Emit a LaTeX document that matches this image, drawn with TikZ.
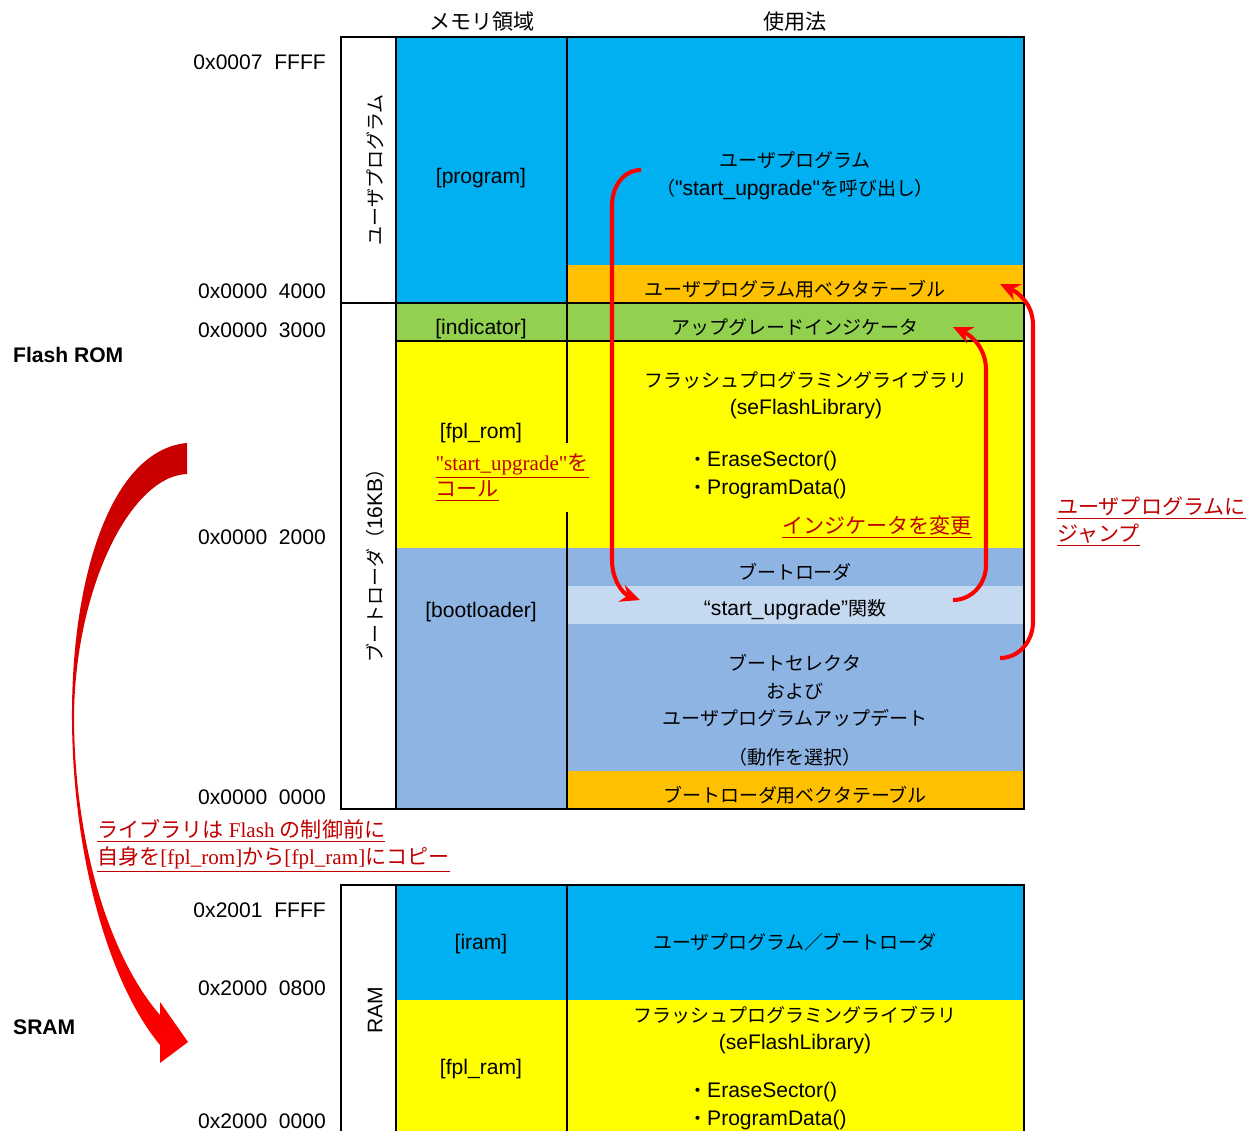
\documentclass[tikz,border=0pt]{standalone}
\usepackage{fontspec}
\setmainfont{Liberation Sans}
\newfontfamily\qsans{Liberation Sans}
\newfontfamily\cjk[Scale=0.9]{Noto Sans CJK JP}
\newfontfamily\cjkbig{Noto Sans CJK JP}
\newfontfamily\ser{Liberation Serif}
\usetikzlibrary{arrows.meta}

\definecolor{progblue}{HTML}{00B0F0}
\definecolor{vecorange}{HTML}{FFC000}
\definecolor{flaggreen}{HTML}{92D050}
\definecolor{libyellow}{HTML}{FFFF00}
\definecolor{bootblue}{HTML}{8DB4E2}
\definecolor{funcblue}{HTML}{C5D9F1}
\definecolor{notered}{HTML}{C00000}
\newcommand{\jp}[1]{{\cjk #1}}
\newcommand{\jr}[1]{{\cjkbig #1}}

\begin{document}
\begin{tikzpicture}[
    x=0.02cm, y=-0.02cm,
    font=\fontsize{12}{14}\selectfont,
    grid/.style={line width=1.1pt},
    addr/.style={anchor=east, inner sep=1pt},
    region/.style={anchor=center},
    usage/.style={anchor=center, align=center, font=\fontsize{12}{15.8}\selectfont},
    funcs/.style={anchor=west, align=left, font=\fontsize{12}{15.8}\selectfont},
    sidelabel/.style={rotate=90, anchor=center},
    memtitle/.style={anchor=west, font=\fontsize{12}{14}\selectfont\bfseries},
    header/.style={anchor=center},
    note/.style={text=notered, anchor=base west, align=left, inner sep=1pt, font=\fontsize{12}{15.3}\selectfont\ser},
    jump/.style={draw=red, line width=2.3pt, -{Stealth[length=11pt,width=10pt]}}
]
\useasboundingbox (0,0) rectangle (1247,1131);

% Flash ROM
\fill[progblue] (396,37) rectangle (1024,265);
\fill[progblue] (396,265) rectangle (567,303);
\fill[vecorange] (567,265) rectangle (1024,303);
\fill[flaggreen] (396,303) rectangle (1024,341);
\fill[libyellow] (396,341) rectangle (1024,548);
\fill[bootblue] (396,548) rectangle (1024,809);
\fill[funcblue] (567,586) rectangle (1024,624);
\fill[vecorange] (567,771) rectangle (1024,809);
\draw[grid] (341,37) rectangle (1024,809);
\draw[grid] (396,37) -- (396,809) (567,37) -- (567,809);
\draw[grid] (341,303) -- (1024,303) (396,341) -- (1024,341);

% SRAM
\fill[progblue] (396,885) rectangle (1024,1000);
\fill[libyellow] (396,1000) rectangle (1024,1131);
\draw[grid] (341,1131) -- (341,885) -- (1024,885) -- (1024,1131);
\draw[grid] (396,885) -- (396,1131) (567,885) -- (567,1131);

% headers
\node[header] (memhead) at (482,22) {\jr{メモリ領域}};
\node[header] (usehead) at (795,22) {\jr{使用法}};

% addresses
\node[addr] (a7ffff) at (328,62) {0x0007\ \ FFFF};
\node[addr] (a4000) at (328,291) {0x0000\ \ 4000};
\node[addr] (a3000) at (328,330) {0x0000\ \ 3000};
\node[addr] (a2000) at (328,537) {0x0000\ \ 2000};
\node[addr] (a0000) at (328,797) {0x0000\ \ 0000};
\node[addr] (r1ffff) at (328,910) {0x2001\ \ FFFF};
\node[addr] (r0800) at (328,988) {0x2000\ \ 0800};
\node[addr] (r0000) at (328,1121) {0x2000\ \ 0000};

\node[memtitle] (flashtitle) at (7,355) {Flash ROM};
\node[memtitle] (sramtitle) at (7,1027) {SRAM};

% side labels
\node[sidelabel] (userside) at (375,170) {\jp{ユーザプログラム}};
\node[sidelabel] (bootside) at (375,561) {\jp{ブートローダ（}16KB\jp{）}};
\node[sidelabel] (ramside) at (375,1010) {RAM};

% regions
\node[region] (prog) at (481,178) {[program]};
\node[region] (indi) at (481,329) {[indicator]};
\node[region] (fplrom) at (481,433) {[fpl\_rom]};
\node[region] (boot) at (481,612) {[bootloader]};
\node[region] (iram) at (481,944) {[iram]};
\node[region] (fplram) at (481,1069) {[fpl\_ram]};

% usage
\node[usage] (userprog) at (795,176) {\jp{ユーザプログラム}\\\jp{（}{\qsans "start\_upgrade"}\jp{を呼び出し）}};
\node[usage] (uservec) at (795,289) {\jp{ユーザプログラム用ベクタテーブル}};
\node[usage] (flagtext) at (795,327) {\jp{アップグレードインジケータ}};
\node[usage] (libtext) at (806,395) {\jp{フラッシュプログラミングライブラリ}\\(seFlashLibrary)};
\node[funcs] (libfuncs) at (682,475) {\jp{・}EraseSector()\\\jp{・}ProgramData()};
\node[usage] (boottext) at (795,572) {\jp{ブートローダ}};
\node[usage] (functext) at (795,610) {“start\_upgrade”\jp{関数}};
\node[usage] (selecttext) at (795,710) {\jp{ブートセレクタ}\\\jp{および}\\\jp{ユーザプログラムアップデート}\\[6pt]\jp{（動作を選択）}};
\node[usage] (bootvec) at (795,795) {\jp{ブートローダ用ベクタテーブル}};
\node[usage] (ramuse) at (795,942) {\jp{ユーザプログラム／ブートローダ}};
\node[usage] (ramlib) at (795,1030) {\jp{フラッシュプログラミングライブラリ}\\(seFlashLibrary)};
\node[funcs] (ramfuncs) at (682,1106) {\jp{・}EraseSector()\\\jp{・}ProgramData()};

% copy arrow
\shade[top color=red!78!black, bottom color=red]
  (187,443) .. controls (110,450) and (71,580) .. (72,720)
  .. controls (73,860) and (110,985) .. (160,1045)
  -- (160,1063) -- (188,1042) -- (160,1002) -- (160,1015)
  .. controls (112,960) and (75,850) .. (74,720)
  .. controls (74,590) and (130,476) .. (187,474) -- cycle;

% jumps
\coordinate (callsrc) at (641,170);
\coordinate (calldst) at (640,600);
\coordinate (flagsrc) at (953,600);
\coordinate (flagdst) at (953,327);
\coordinate (jumpsrc) at (1000,658);
\coordinate (jumpdst) at (1000,284);
\draw[jump] (callsrc) to[out=180,in=90] (612,205) -- (612,560) to[out=-90,in=160] (calldst);
\draw[jump] (flagsrc) to[out=0,in=-90] (986,565) -- (986,370) to[out=90,in=-25] (flagdst);
\draw[jump] (jumpsrc) to[out=0,in=-90] (1033,622) -- (1033,325) to[out=90,in=-25] (jumpdst);

% notes (base = last line)
\node[note, fill=libyellow, inner xsep=3pt, inner ysep=6pt] (callnote) at (430,497)
  {\underline{"start\_upgrade"\jr{を}}\\\underline{\jr{コール}}};
\node[note] (flagnote) at (780,533) {\underline{\jr{インジケータを変更}}};
\node[note] (jumpnote) at (1055,541) {\underline{\jr{ユーザプログラムに}}\\\underline{\jr{ジャンプ}}};
\node[note] (copynote) at (95,864)
  {\underline{\jr{ライブラリは} Flash \jr{の制御前に}}\\\underline{\jr{自身を}[fpl\_rom]\jr{から}[fpl\_ram]\jr{にコピー}}};
\end{tikzpicture}
\end{document}
